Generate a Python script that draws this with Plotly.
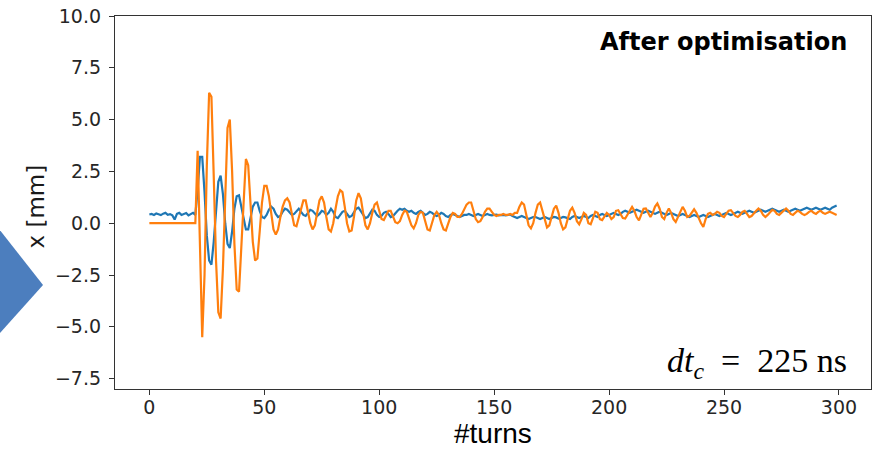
import plotly.graph_objects as go

turns = list(range(300))

# Blue trace (x position, mm)
blue = [
    0.42, 0.45, 0.40, 0.47, 0.43, 0.39, 0.46, 0.50, 0.41, 0.44,
    0.38, 0.18, 0.45, 0.50, 0.40, 0.46, 0.49, 0.38, 0.45, 0.50,
    0.40, 1.60, 3.20, 3.20, 1.50, -0.60, -1.80, -2.00, -0.90, 0.70,
    2.00, 2.30, 1.40, 0.00, -1.00, -1.20, -0.40, 0.70, 1.30, 1.35,
    0.80, 0.10, -0.30, -0.30, 0.20, 0.80, 1.00, 1.00, 0.60, 0.30,
    0.25, 0.40, 0.65, 0.80, 0.70, 0.45, 0.30, 0.35, 0.55, 0.70,
    0.65, 0.50, 0.40, 0.45, 0.60, 0.70, 0.55, 0.40, 0.35, 0.50,
    0.65, 0.60, 0.45, 0.35, 0.45, 0.60, 0.55, 0.40, 0.50, 0.70,
    0.55, 0.30, 0.25, 0.40, 0.55, 0.60, 0.45, 0.30, 0.35, 0.55,
    0.70, 0.75, 0.60, 0.40, 0.25, 0.30, 0.50, 0.65, 0.60, 0.40,
    0.30, 0.35, 0.50, 0.55, 0.45, 0.30, 0.35, 0.50, 0.60, 0.70,
    0.65, 0.70, 0.60, 0.55, 0.60, 0.50, 0.45, 0.55, 0.60, 0.50,
    0.40, 0.45, 0.55, 0.50, 0.40, 0.35, 0.40, 0.50, 0.45, 0.35,
    0.30, 0.40, 0.45, 0.40, 0.35, 0.30, 0.35, 0.40, 0.40, 0.45,
    0.40, 0.35, 0.40, 0.45, 0.40, 0.35, 0.40, 0.45, 0.40, 0.38,
    0.40, 0.42, 0.38, 0.40, 0.40, 0.38, 0.40, 0.42, 0.35, 0.30,
    0.25, 0.30, 0.35, 0.30, 0.25, 0.20, 0.25, 0.30, 0.30, 0.25,
    0.20, 0.25, 0.30, 0.25, 0.20, 0.25, 0.30, 0.28, 0.22, 0.25,
    0.30, 0.28, 0.22, 0.20, 0.30, 0.35, 0.30, 0.25, 0.30, 0.35,
    0.30, 0.25, 0.35, 0.40, 0.35, 0.30, 0.40, 0.45, 0.40, 0.35,
    0.40, 0.45, 0.50, 0.45, 0.40, 0.45, 0.55, 0.60, 0.55, 0.50,
    0.55, 0.60, 0.65, 0.60, 0.55, 0.50, 0.55, 0.60, 0.55, 0.50,
    0.45, 0.50, 0.55, 0.50, 0.45, 0.40, 0.45, 0.50, 0.45, 0.40,
    0.35, 0.40, 0.45, 0.40, 0.35, 0.30, 0.35, 0.40, 0.35, 0.30,
    0.35, 0.40, 0.35, 0.30, 0.35, 0.40, 0.45, 0.40, 0.35, 0.40,
    0.45, 0.50, 0.45, 0.40, 0.45, 0.50, 0.55, 0.50, 0.45, 0.50,
    0.55, 0.60, 0.55, 0.50, 0.55, 0.60, 0.65, 0.60, 0.55, 0.60,
    0.65, 0.70, 0.65, 0.60, 0.55, 0.60, 0.65, 0.60, 0.55, 0.60,
    0.65, 0.70, 0.65, 0.60, 0.65, 0.70, 0.75, 0.70, 0.65, 0.70,
    0.75, 0.70, 0.65, 0.70, 0.75, 0.70, 0.65, 0.75, 0.80, 0.85,
]

# Orange trace (x position, mm)
orange = [
    0.0, 0.0, 0.0, 0.0, 0.0, 0.0, 0.0, 0.0, 0.0, 0.0,
    0.0, 0.0, 0.0, 0.0, 0.0, 0.0, 0.0, 0.0, 0.0, 0.0,
    0.0, 3.5, -1.0, -5.5, -2.5, 2.8, 6.3, 6.1, 2.3, -1.8,
    -4.3, -4.6, -2.2, 1.6, 4.6, 5.0, 2.5, -1.0, -3.2, -3.3,
    -1.2, 1.5, 3.1, 2.8, 1.0, -0.9, -1.8, -1.7, -0.4, 1.0,
    1.8, 1.8, 1.3, 0.4, -0.3, -0.55, -0.3, 0.3, 0.8, 1.1,
    1.2, 1.0, 0.4, -0.1, -0.15, 0.3, 0.8, 1.1, 1.1, 0.6,
    0.0, -0.3, -0.1, 0.5, 1.1, 1.3, 1.0, 0.3, -0.3, -0.4,
    0.0, 0.7, 1.3, 1.6, 1.5, 0.8, 0.0, -0.4, -0.35, 0.3,
    1.1, 1.45, 1.2, 0.5, -0.1, -0.3, 0.0, 0.5, 0.9, 1.0,
    0.6, 0.2, 0.15, 0.4, 0.6, 0.6, 0.3, 0.05, 0.0, 0.1,
    0.4, 0.6, 0.55, 0.2, -0.1, -0.25, 0.0, 0.4, 0.55, 0.5,
    0.1, -0.3, -0.35, 0.0, 0.4, 0.55, 0.4, 0.0, -0.3, -0.35,
    0.0, 0.3, 0.5, 0.45, 0.3, 0.3, 0.45, 0.7, 0.9, 1.0,
    1.0, 0.6, 0.2, 0.05, 0.1, 0.3, 0.55, 0.7, 0.7, 0.55,
    0.4, 0.35, 0.4, 0.4, 0.45, 0.4, 0.4, 0.45, 0.4, 0.5,
    0.5, 0.8, 1.0, 0.9, 0.4, -0.1, -0.25, 0.0, 0.5, 0.9,
    1.0, 0.6, 0.1, -0.2, -0.1, 0.3, 0.7, 0.85, 0.5, 0.0,
    -0.3, -0.2, 0.2, 0.6, 0.75, 0.5, 0.1, -0.05, 0.2, 0.5,
    0.4, 0.0, -0.05, 0.3, 0.55, 0.5, 0.2, 0.15, 0.3, 0.5,
    0.4, 0.2, 0.3, 0.6, 0.63, 0.4, 0.25, 0.23, 0.4, 0.6,
    0.79, 0.6, 0.3, 0.14, 0.4, 0.7, 0.71, 0.5, 0.3, 0.5,
    0.8, 0.95, 0.7, 0.3, 0.2, 0.5, 0.71, 0.5, 0.2, 0.06,
    0.3, 0.6, 0.79, 0.6, 0.3, 0.35, 0.5, 0.67, 0.5, 0.2,
    0.0, -0.18, 0.2, 0.45, 0.5, 0.4, 0.45, 0.55, 0.5, 0.35,
    0.3, 0.45, 0.6, 0.63, 0.5, 0.35, 0.3, 0.4, 0.55, 0.6,
    0.45, 0.3, 0.35, 0.5, 0.6, 0.71, 0.6, 0.4, 0.3, 0.4,
    0.55, 0.65, 0.6, 0.45, 0.4, 0.5, 0.6, 0.71, 0.6, 0.45,
    0.4, 0.5, 0.6, 0.55, 0.45, 0.4, 0.45, 0.55, 0.6, 0.5,
    0.45, 0.55, 0.6, 0.5, 0.45, 0.5, 0.55, 0.5, 0.45, 0.40,
]

x_ticks = [0, 50, 100, 150, 200, 250, 300]
y_ticks = [-7.5, -5.0, -2.5, 0.0, 2.5, 5.0, 7.5, 10.0]
y_tick_labels = ["\u22127.5", "\u22125.0", "\u22122.5", "0.0", "2.5", "5.0", "7.5", "10.0"]

fig = go.Figure()
fig.add_trace(go.Scatter(x=turns, y=blue, mode="lines",
                         line=dict(color="#1f77b4", width=2.2), showlegend=False))
fig.add_trace(go.Scatter(x=turns, y=orange, mode="lines",
                         line=dict(color="#ff7f0e", width=2.2), showlegend=False))

axis_common = dict(
    showline=True, linecolor="#333333", linewidth=1.2, mirror=True,
    ticks="outside", ticklen=5, tickwidth=1.2, tickcolor="#333333",
    showgrid=False, zeroline=False,
    tickfont=dict(family="DejaVu Sans", size=19, color="#262626"),
)

fig.update_layout(
    width=877, height=452,
    margin=dict(l=115, r=6, t=16, b=63),
    paper_bgcolor="white", plot_bgcolor="white",
    xaxis=dict(range=[-14.95, 313.95], tickvals=x_ticks, ticklabelstandoff=-4, **axis_common),
    yaxis=dict(range=[-8.0, 10.0], tickvals=y_ticks, ticktext=y_tick_labels,
               ticklabelstandoff=4, **axis_common),
    showlegend=False,
)

fig.add_annotation(xref="paper", yref="paper", x=0.5, y=-0.1689, yshift=1,
                   text="#turns", showarrow=False, xanchor="center", yanchor="bottom",
                   font=dict(family="Liberation Sans", size=28, color="black"))
fig.add_annotation(xref="paper", yref="paper", x=0, xshift=-80, y=0.5, yshift=-4,
                   text="x [mm]", textangle=-90, showarrow=False,
                   xanchor="center", yanchor="middle",
                   font=dict(family="DejaVu Sans", size=23, color="#1a1a1a"))
fig.add_annotation(xref="paper", yref="paper", x=1, xshift=-22, y=1, yshift=-26,
                   text="<b>After optimisation</b>", showarrow=False,
                   xanchor="right", yanchor="middle",
                   font=dict(family="DejaVu Sans", size=24, color="black"))
fig.add_annotation(xref="paper", yref="paper", x=1, xshift=-22, y=0, yshift=26,
                   text="<i>dt</i><sub><i>c</i></sub>\u00a0\u00a0=\u00a0\u00a0225 ns", showarrow=False,
                   xanchor="right", yanchor="middle",
                   font=dict(family="Liberation Serif", size=34, color="black"))

# Blue chevron arrow on the left edge of the slide
fig.add_shape(type="path", xref="paper", yref="paper",
              path="M -0.17 0.4718 L -0.0952 0.2788 L -0.17 0.1099 Z",
              fillcolor="#4C7EBE", line=dict(width=0), layer="above")

fig.write_html("out.html", config={"displayModeBar": False},
               post_script="document.body.style.margin='0';")
